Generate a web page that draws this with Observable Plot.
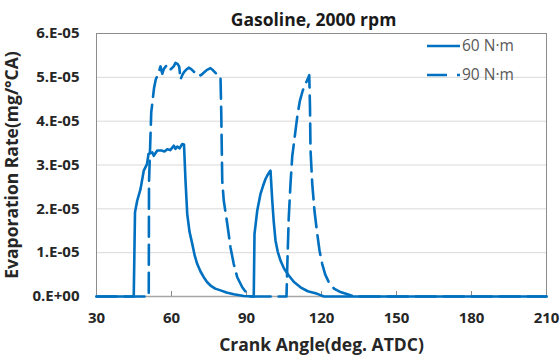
<!DOCTYPE html>
<html>
<head>
<meta charset="utf-8">
<script src="https://cdn.jsdelivr.net/npm/d3@7"></script>
<script src="https://cdn.jsdelivr.net/npm/@observablehq/plot@0.6"></script>
<style>
  html, body { margin: 0; padding: 0; background: #fff; }
  #chart { position: relative; width: 560px; height: 361px; }
</style>
</head>
<body>
<div id="chart"></div>
<script>
const titleText = "Gasoline, 2000 rpm";
const xLabel = "Crank Angle(deg. ATDC)";
const yLabel = "Evaporation Rate(mg/°CA)";
const seriesNames = ["60 N·m", "90 N·m"];
const xTicks = [30, 60, 90, 120, 150, 180, 210];
const yTicks = [0, 1e-5, 2e-5, 3e-5, 4e-5, 5e-5, 6e-5];
const yTickLabels = ["0.E+00", "1.E-05", "2.E-05", "3.E-05", "4.E-05", "5.E-05", "6.E-05"];

// 60 N·m (solid)
const angle60 = [30, 44.9, 45.4, 46.3, 47.6, 48.9, 50.2, 50.8, 51.6, 52.3, 52.9, 54.3, 56.0, 57.2, 58.3, 59.5, 60.9, 61.6, 62.3, 63.2, 64.3, 65.0, 65.6, 66.3, 67.2, 68.3, 69.3, 70.3, 71.6, 72.9, 74.2, 75.6, 77.5, 79.6, 82.0, 84.9, 88.9, 92.9, 93.2, 94.3, 95.6, 96.6, 97.6, 98.5, 99.3, 99.6, 100.3, 100.9, 101.6, 102.5, 103.6, 105.0, 106.9, 109.0, 111.6, 114.5, 118.3, 121.0, 210];
const rate60 = [0, 0, 1.92e-5, 2.19e-5, 2.45e-5, 2.87e-5, 3.02e-5, 3.25e-5, 3.27e-5, 3.29e-5, 3.21e-5, 3.33e-5, 3.33e-5, 3.31e-5, 3.36e-5, 3.34e-5, 3.44e-5, 3.37e-5, 3.42e-5, 3.38e-5, 3.48e-5, 3.47e-5, 2.64e-5, 1.88e-5, 1.48e-5, 1.20e-5, 0.93e-5, 0.74e-5, 0.57e-5, 0.44e-5, 0.33e-5, 0.25e-5, 0.18e-5, 0.14e-5, 0.09e-5, 0.05e-5, 0.01e-5, 0, 1.43e-5, 1.96e-5, 2.34e-5, 2.52e-5, 2.68e-5, 2.78e-5, 2.85e-5, 2.87e-5, 2.19e-5, 1.70e-5, 1.28e-5, 1.02e-5, 0.82e-5, 0.64e-5, 0.48e-5, 0.33e-5, 0.21e-5, 0.12e-5, 0.06e-5, 0, 0];

// 90 N·m (dashed)
const angle90 = [30, 50.9, 51.0, 51.5, 51.9, 52.5, 53.0, 53.7, 54.3, 54.9, 55.6, 56.3, 57.0, 58.3, 59.6, 60.9, 61.6, 62.5, 63.1, 63.6, 64.3, 65.0, 66.0, 66.9, 68.0, 68.9, 70.0, 70.9, 72.0, 73.2, 74.2, 75.6, 76.6, 77.6, 78.9, 79.6, 79.9, 80.3, 80.9, 82.3, 83.6, 84.9, 86.3, 88.3, 90.3, 91.0, 106.0, 106.3, 106.9, 107.6, 108.3, 109.2, 110.3, 111.3, 112.5, 113.6, 114.6, 115.1, 115.4, 115.6, 116.3, 117.2, 118.3, 119.2, 120.3, 121.5, 122.9, 125.0, 127.6, 131.6, 134.0, 210];
const rate90 = [0, 0, 2.6e-5, 3.5e-5, 4.2e-5, 4.5e-5, 4.75e-5, 4.95e-5, 5.03e-5, 5.12e-5, 5.25e-5, 5.08e-5, 5.2e-5, 5.29e-5, 5.18e-5, 5.25e-5, 5.33e-5, 5.3e-5, 5.24e-5, 4.95e-5, 5.05e-5, 5.12e-5, 5.18e-5, 5.22e-5, 5.18e-5, 5.13e-5, 5.08e-5, 5.03e-5, 5.06e-5, 5.12e-5, 5.17e-5, 5.21e-5, 5.16e-5, 5.1e-5, 5.05e-5, 5.02e-5, 4.2e-5, 2.64e-5, 2.19e-5, 1.66e-5, 1.12e-5, 0.74e-5, 0.44e-5, 0.21e-5, 0.06e-5, 0, 0, 0.67e-5, 1.8e-5, 2.57e-5, 3.2e-5, 3.6e-5, 4.1e-5, 4.45e-5, 4.7e-5, 4.85e-5, 4.98e-5, 5.05e-5, 4.3e-5, 3.35e-5, 2.57e-5, 1.95e-5, 1.43e-5, 1.05e-5, 0.74e-5, 0.5e-5, 0.33e-5, 0.18e-5, 0.1e-5, 0.03e-5, 0, 0];

const data60 = angle60.map((a, i) => ({angle: a, rate: rate60[i]}));
const data90 = angle90.map((a, i) => ({angle: a, rate: rate90[i]}));

const blue = "#0070C0";
const font = "'Open Sans', 'Noto Sans', sans-serif";

const chart = Plot.plot({
  width: 560,
  height: 361,
  marginLeft: 96,
  marginRight: 14,
  marginTop: 33,
  marginBottom: 65,
  style: {fontFamily: font, background: "#fff", overflow: "visible"},
  x: {domain: [30, 210]},
  y: {domain: [0, 6e-5]},
  marks: [
    Plot.gridY(yTicks, {stroke: "#d9d9d9", strokeOpacity: 1, strokeWidth: 1}),
    Plot.frame({stroke: "#8c8c8c", strokeWidth: 1}),
    Plot.ruleY([0], {stroke: "#a6a6a6", strokeWidth: 1.5}),
    Plot.axisX(xTicks, {tickSize: -5, stroke: "#8c8c8c", tickFormat: () => "", label: null}),
    Plot.axisX(xTicks, {tickSize: 0, tickPadding: 16, fontSize: 15, fontWeight: "bold", fill: "#262626",
      tickFormat: d => String(d), label: xLabel, labelAnchor: "center", labelArrow: "none", labelOffset: 54}),
    Plot.axisY(yTicks, {tickSize: 0, tickPadding: 17, fontSize: 15, fontWeight: "bold", fill: "#262626",
      tickFormat: (d, i) => yTickLabels[i], label: yLabel, labelAnchor: "center", labelArrow: "none", labelOffset: 91}),
    Plot.line(data90, {x: "angle", y: "rate", stroke: blue, strokeWidth: 2.6, strokeDasharray: "20,8", strokeLinejoin: "round"}),
    Plot.line(data60, {x: "angle", y: "rate", stroke: blue, strokeWidth: 2.6, strokeLinejoin: "round"}),
    Plot.text([titleText], {frameAnchor: "top", dy: -20, dx: -8, fontSize: 17.5, fontWeight: "bold", fill: "#1a1a1a"})
  ]
});
document.getElementById("chart").appendChild(chart);

// style axis labels
d3.select(chart).selectAll("g[aria-label='x-axis label'] text, g[aria-label='y-axis label'] text")
  .attr("font-size", 17.5).attr("font-weight", "bold").attr("fill", "#262626");

// legend (inside plot, top-right)
const lg = d3.select(chart).append("g").attr("font-family", font).attr("text-anchor", "start");
const legendItems = [{name: seriesNames[0], dash: null}, {name: seriesNames[1], dash: "20,10"}];
legendItems.forEach((item, i) => {
  const yy = 46 + i * 29;
  lg.append("line").attr("x1", 427).attr("x2", 460).attr("y1", yy).attr("y2", yy)
    .attr("stroke", blue).attr("stroke-width", 2.6).attr("stroke-dasharray", item.dash);
  lg.append("text").attr("x", 462).attr("y", yy).attr("dy", "0.35em")
    .attr("font-size", 15.5).attr("fill", "#595959").text(item.name);
});
</script>
</body>
</html>
